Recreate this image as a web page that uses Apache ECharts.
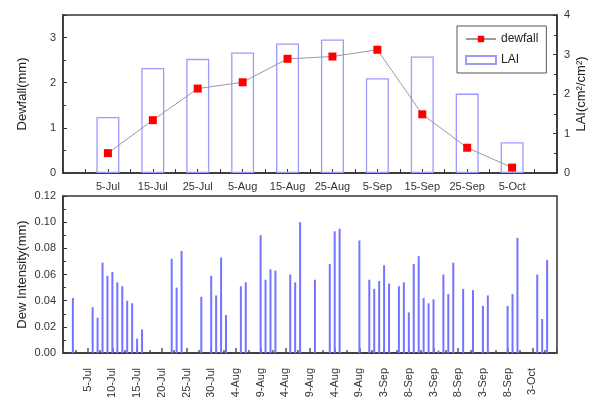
<!DOCTYPE html>
<html>
<head>
<meta charset="utf-8">
<script src="https://cdn.jsdelivr.net/npm/echarts@6/dist/echarts.min.js"></script>
<style>
  html, body { margin: 0; padding: 0; background: #fff; }
  #chart { width: 592px; height: 397px; }
</style>
</head>
<body>
<div id="chart"></div>
<script>
// Ten-day periods: dewfall total (mm) and leaf area index
const periods = ['5-Jul', '15-Jul', '25-Jul', '5-Aug', '15-Aug', '25-Aug', '5-Sep', '15-Sep', '25-Sep', '5-Oct'];
const dewfall = [0.44, 1.17, 1.87, 2.01, 2.53, 2.58, 2.73, 1.30, 0.56, 0.12];
const lai = [1.42, 2.66, 2.89, 3.05, 3.28, 3.38, 2.40, 2.95, 2.01, 0.78];

// Daily dew intensity (mm); days not listed had no dew
const dewDays = [
  '07-02', '07-06', '07-07', '07-08', '07-09', '07-10', '07-11', '07-12', '07-13', '07-14',
  '07-15', '07-16', '07-22', '07-23', '07-24', '07-28', '07-30', '07-31', '08-01', '08-02',
  '08-05', '08-06', '08-09', '08-10', '08-11', '08-12', '08-15', '08-16', '08-17', '08-20',
  '08-23', '08-24', '08-25', '08-29', '08-31', '09-01', '09-02', '09-03', '09-04', '09-06',
  '09-07', '09-08', '09-09', '09-10', '09-11', '09-12', '09-13', '09-14', '09-15', '09-16',
  '09-17', '09-19', '09-21', '09-23', '09-24', '09-28', '09-29', '09-30', '10-04', '10-05',
  '10-06'
];
const dewIntensity = [
  0.042, 0.035, 0.027, 0.069, 0.059, 0.062, 0.054, 0.051, 0.040, 0.038,
  0.011, 0.018, 0.072, 0.050, 0.078, 0.043, 0.059, 0.044, 0.073, 0.029,
  0.051, 0.054, 0.090, 0.056, 0.064, 0.063, 0.060, 0.054, 0.100, 0.056,
  0.068, 0.093, 0.095, 0.086, 0.056, 0.049, 0.055, 0.067, 0.053, 0.051,
  0.054, 0.031, 0.068, 0.074, 0.042, 0.038, 0.041, 0.002, 0.060, 0.045,
  0.069, 0.049, 0.048, 0.036, 0.044, 0.036, 0.045, 0.088, 0.060, 0.026,
  0.071
];

// Day axis runs from 30 June (day 0) to 8 October (day 100)
const MONTHS = ['Jan','Feb','Mar','Apr','May','Jun','Jul','Aug','Sep','Oct','Nov','Dec'];
const YEAR = 2001;
const DAY0 = Date.UTC(YEAR, 5, 30);
function dayOffset(mmdd) {
  const [m, d] = mmdd.split('-').map(Number);
  return Math.round((Date.UTC(YEAR, m - 1, d) - DAY0) / 864e5);
}
function dayLabel(off) {
  const dt = new Date(DAY0 + off * 864e5);
  return dt.getUTCDate() + '-' + MONTHS[dt.getUTCMonth()];
}

const FONT = 'Liberation Sans, Arial, sans-serif';
const AX = '#333';
const labelStyle = { color: '#333', fontSize: 11, fontFamily: FONT };
const nameStyle = { color: '#222', fontSize: 13, fontFamily: FONT };

const chart = echarts.init(document.getElementById('chart'), null, { renderer: 'canvas' });

chart.setOption({
  backgroundColor: '#fff',
  animation: false,
  grid: [
    { left: 63, right: 35, top: 15, height: 158, outerBoundsMode: 'none', containLabel: false,
      show: true, borderColor: AX, borderWidth: 1.5, backgroundColor: 'transparent' },
    { left: 63, right: 35, top: 196, height: 157, outerBoundsMode: 'none', containLabel: false,
      show: true, borderColor: AX, borderWidth: 1.5, backgroundColor: 'transparent' }
  ],
  legend: {
    left: 457, top: 26,
    orient: 'vertical',
    itemWidth: 30, itemHeight: 8, itemGap: 9,
    padding: [7, 8, 7, 8],
    borderColor: '#555', borderWidth: 1,
    textStyle: { color: '#222', fontSize: 12, fontFamily: FONT },
    data: [{ name: 'dewfall' }, { name: 'LAI', icon: 'rect' }]
  },
  xAxis: [
    {
      gridIndex: 0, type: 'value', min: -1, max: 10, interval: 1,
      splitLine: { show: false },
      axisLine: { onZero: false, lineStyle: { color: AX, width: 1.5 } },
      axisTick: { inside: true, length: 4, lineStyle: { color: AX } },
      minorTick: { show: true, splitNumber: 2, length: 4, lineStyle: { color: AX } },
      axisLabel: Object.assign({
        margin: 8,
        formatter: v => (Number.isInteger(v) && periods[v]) ? periods[v] : ''
      }, labelStyle)
    },
    {
      gridIndex: 1, type: 'value', min: 0, max: 100, interval: 5,
      splitLine: { show: false },
      axisLine: { onZero: false, lineStyle: { color: AX, width: 1.5 } },
      axisTick: { inside: true, length: 5, lineStyle: { color: '#555', width: 1.5 } },
      minorTick: { show: true, splitNumber: 2, length: 3, lineStyle: { color: '#555', width: 1.5 } },
      axisLabel: Object.assign({
        rotate: 90, margin: 15,
        formatter: v => (v > 0 && v < 100) ? dayLabel(v) : ''
      }, labelStyle)
    }
  ],
  yAxis: [
    {
      gridIndex: 0, type: 'value', min: 0, max: 3.5, interval: 1,
      name: 'Dewfall(mm)', nameLocation: 'middle', nameGap: 34, nameMoveOverlap: false,
      nameTextStyle: nameStyle,
      splitLine: { show: false },
      axisLine: { onZero: false, lineStyle: { color: AX, width: 1.5 } },
      axisTick: { inside: true, length: 4, lineStyle: { color: AX } },
      minorTick: { show: true, splitNumber: 2, length: 3, lineStyle: { color: AX } },
      axisLabel: Object.assign({ margin: 7, showMaxLabel: false }, labelStyle)
    },
    {
      gridIndex: 0, type: 'value', min: 0, max: 4, interval: 1, position: 'right',
      name: 'LAI(cm²/cm²)', nameLocation: 'middle', nameGap: 18, nameRotate: 90, nameMoveOverlap: false,
      nameTextStyle: nameStyle,
      splitLine: { show: false },
      axisLine: { onZero: false, lineStyle: { color: AX, width: 1.5 } },
      axisTick: { inside: true, length: 4, lineStyle: { color: AX } },
      minorTick: { show: true, splitNumber: 2, length: 3, lineStyle: { color: AX } },
      axisLabel: Object.assign({ margin: 7 }, labelStyle)
    },
    {
      gridIndex: 1, type: 'value', min: 0, max: 0.12, interval: 0.02,
      name: 'Dew Intensity(mm)', nameLocation: 'middle', nameGap: 34, nameMoveOverlap: false,
      nameTextStyle: nameStyle,
      splitLine: { show: false },
      axisLine: { onZero: false, lineStyle: { color: AX, width: 1.5 } },
      axisTick: { inside: true, length: 4, lineStyle: { color: AX } },
      minorTick: { show: true, splitNumber: 2, length: 3, lineStyle: { color: AX } },
      axisLabel: Object.assign({ margin: 7, formatter: v => v.toFixed(2) }, labelStyle)
    }
  ],
  series: [
    {
      name: 'LAI', type: 'bar', xAxisIndex: 0, yAxisIndex: 1,
      barWidth: 23,
      itemStyle: { color: 'rgba(255,255,255,0)', borderColor: '#9a9aff', borderWidth: 1.3 },
      data: lai.map((v, i) => [i, v])
    },
    {
      name: 'dewfall', type: 'line', xAxisIndex: 0, yAxisIndex: 0,
      symbol: 'rect', symbolSize: 8,
      lineStyle: { color: '#9a9a9a', width: 1 },
      itemStyle: { color: '#ff0000' },
      data: dewfall.map((v, i) => [i, v]),
      z: 5
    },
    {
      name: 'Dew intensity', type: 'bar', xAxisIndex: 1, yAxisIndex: 2,
      barWidth: 2,
      itemStyle: { color: '#7474ff' },
      data: dewDays.map((d, i) => [dayOffset(d), dewIntensity[i]])
    }
  ]
});
</script>
</body>
</html>
